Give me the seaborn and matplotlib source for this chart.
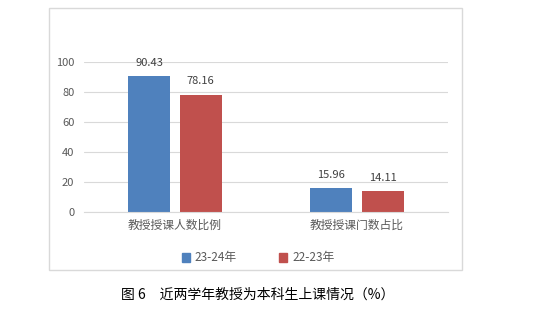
import matplotlib
matplotlib.use("Agg")
import matplotlib.pyplot as plt
import seaborn as sns
import pandas as pd
from matplotlib.patches import Rectangle

categories = ["教授授课人数比例", "教授授课门数占比"]
series_names = ["23-24年", "22-23年"]
values_2324 = [90.43, 15.96]
values_2223 = [78.16, 14.11]
yticks = [0, 20, 40, 60, 80, 100]
caption = "图 6　近两学年教授为本科生上课情况（%）"

sns.set_theme(style="white")
plt.rcParams['font.family'] = ['Noto Sans CJK SC', 'DejaVu Sans']

df = pd.DataFrame({
    "cat": categories * 2,
    "series": [series_names[0]] * 2 + [series_names[1]] * 2,
    "val": values_2324 + values_2223,
})

fig = plt.figure(figsize=(5.45, 3.09), dpi=100)
fig.patch.set_facecolor("white")
ax = fig.add_axes([84/545, 1-212/309, (448-84)/545, (212-62)/309])

palette = {series_names[0]: "#4F81BD", series_names[1]: "#C0504D"}
sns.barplot(data=df, x="cat", y="val", hue="series", palette=palette,
            width=0.566, gap=0.194, ax=ax, saturation=1, legend=False,
            linewidth=0)

ax.set_ylim(0, 100)
ax.set_xlim(-0.5, 1.5)
ax.set_yticks(yticks)
ax.set_yticklabels([str(t) for t in yticks], fontsize=8, color="#595959")
ax.tick_params(axis="x", labelsize=8.5, colors="#595959", length=0, pad=5)
ax.tick_params(axis="y", length=0, pad=7)
ax.set_xlabel("")
ax.set_ylabel("")
ax.grid(axis="y", color="#d9d9d9", linewidth=0.8)
ax.set_axisbelow(True)
for s in ["top", "right", "left"]:
    ax.spines[s].set_visible(False)
ax.spines["bottom"].set_color("#d9d9d9")
ax.spines["bottom"].set_linewidth(0.8)

for cont in ax.containers:
    ax.bar_label(cont, fmt="%.2f", padding=6, fontsize=8, color="#404040")

handles = [Rectangle((0, 0), 1, 1, color=palette[n]) for n in series_names]
fig.legend(handles, series_names, loc="center", ncol=2,
           bbox_to_anchor=(258/545, 1-258/309), frameon=False,
           fontsize=8.5, handlelength=0.7, handleheight=0.7,
           columnspacing=3.6, handletextpad=0.4, labelcolor="#595959")

border = Rectangle((49/545, 1-270/309), (462-49)/545, (270-8)/309,
                   transform=fig.transFigure, fill=False,
                   edgecolor="#d9d9d9", linewidth=1)
fig.add_artist(border)

fig.text(258/545, 1-295/309, caption, ha="center", va="center",
         fontsize=10, color="black")

fig.savefig("out.png", dpi=100)
